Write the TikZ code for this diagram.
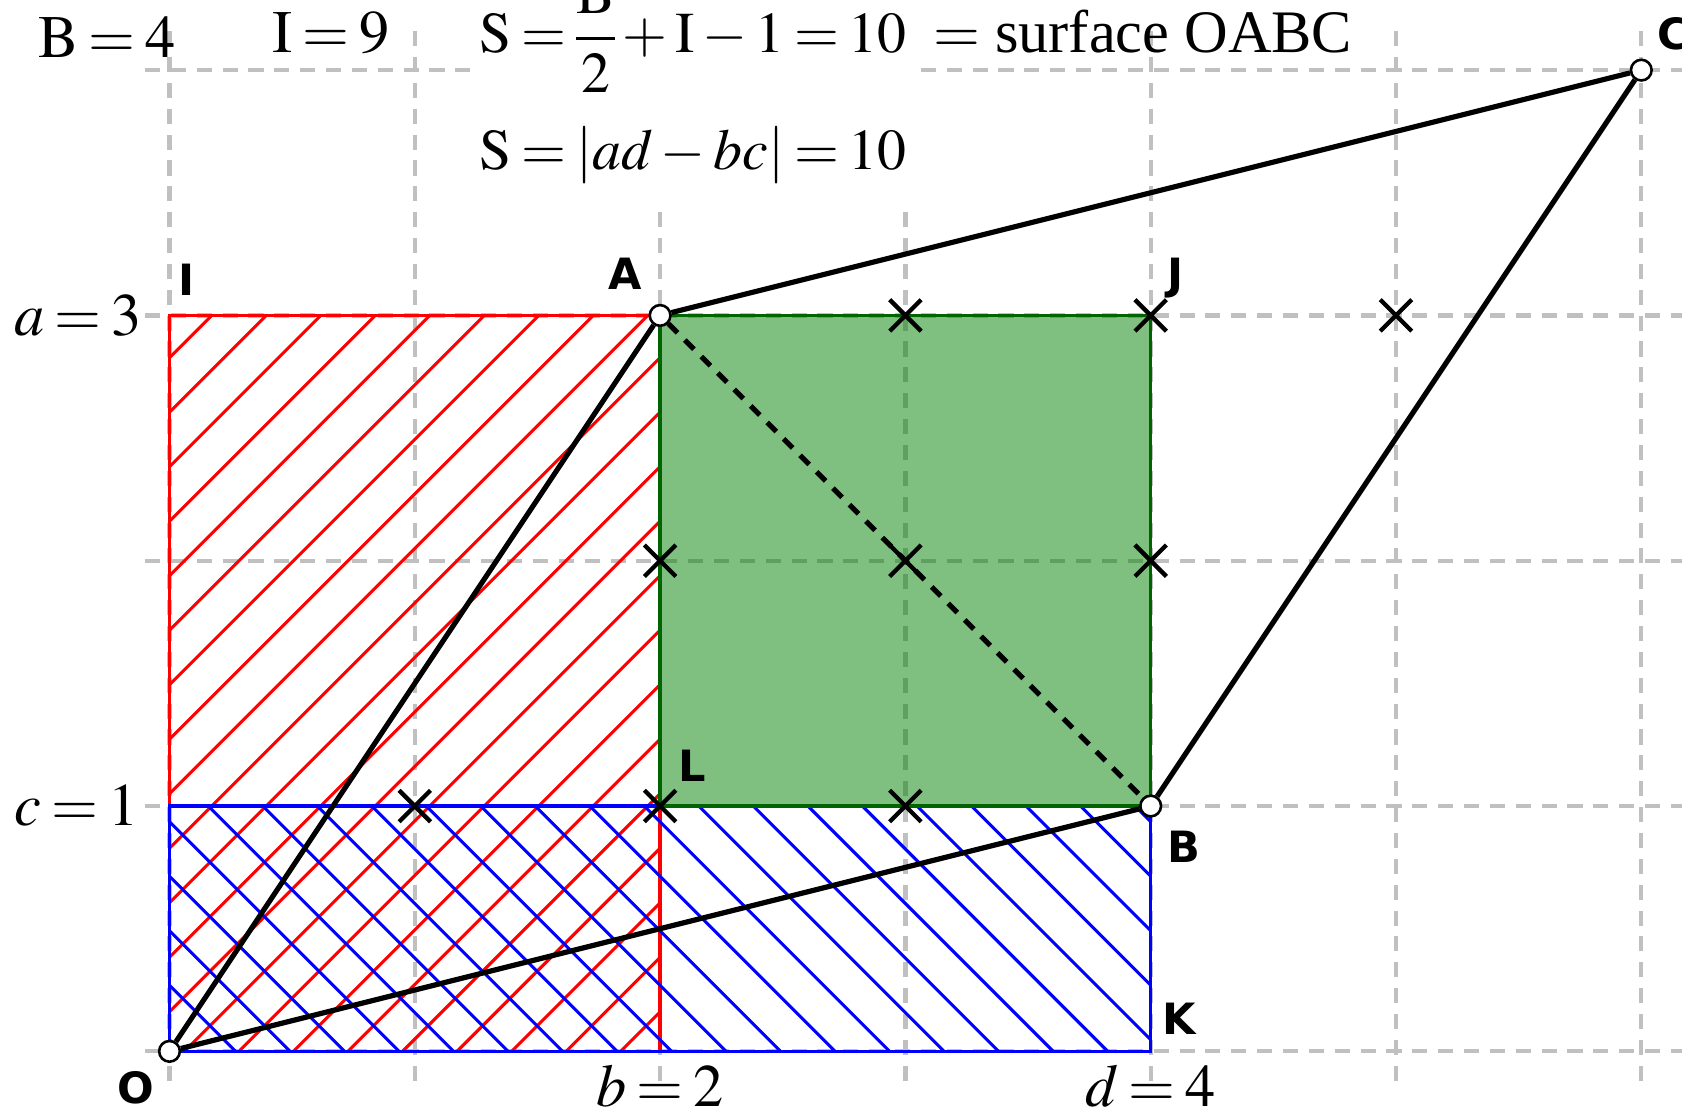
\documentclass[tikz,border=0pt]{standalone}
\usepackage{amsmath}
\usepackage{mathptmx}
\usepackage{fontspec}
\setmainfont{Liberation Serif}
\newfontfamily\ptfont{DejaVu Sans}
\usetikzlibrary{positioning, shapes.misc}

\definecolor{gridgray}{RGB}{192,192,192}
\definecolor{fillgreen}{RGB}{0,128,0}
\definecolor{edgegreen}{RGB}{0,100,0}

% tighter spacing round = + - in the formulas
\newcommand\tightmath{\thickmuskip=3mu\relax\medmuskip=2.5mu\relax\nulldelimiterspace=0pt\relax}

\begin{document}
\begin{tikzpicture}[x=2cm, y=2cm,
    gridline/.style={gridgray, line width=1pt, dash pattern=on 3.5pt off 2.5pt},
    hatch/.style={line width=0.7pt},
    side/.style={line width=1.2pt},
    pt/.style={circle, draw, fill=white, minimum size=4.8pt, inner sep=0pt, line width=0.6pt},
    lattice/.style={cross out, draw, minimum size=6.3pt, inner sep=0pt, line width=1pt},
    ptlabel/.style={font=\ptfont\bfseries\fontsize{10}{12}\selectfont, inner sep=0pt},
    txt/.style={font=\fontsize{14}{17}\selectfont, inner sep=0pt},
    formula/.style={font=\fontsize{13.4}{16}\selectfont, inner sep=0pt, anchor=base west},
]
    \useasboundingbox (-0.691,-0.264) rectangle (6.166,4.286);

    % Grid, hidden behind the formulas
    \draw[gridline, step=2cm] (-0.1,-0.12) grid (6.3,4.2);
    \fill[white] (1.23,3.44) rectangle (3.04,4.4);

    % Rectangle b x a, hatched red
    \begin{scope}
        \clip (0,0) rectangle (2,3);
        \foreach \n in {0,...,23}
            \draw[hatch, red] ({-3.05+\n*2/9},0) -- ++(3,3);
    \end{scope}
    \draw[red, line width=0.8pt] (0,0) rectangle (2,3);

    % Rectangle d x c, hatched blue
    \begin{scope}
        \clip (0,0) rectangle (4,1);
        \foreach \n in {-1,...,22}
            \draw[hatch, blue] ({0.047+\n*2/9},0) -- ++(-1,1);
    \end{scope}
    \draw[blue, line width=0.8pt] (0,0) rectangle (4,1);

    % Corners of the rectangles
    \coordinate (I) at (0,3);
    \coordinate (J) at (4,3);
    \coordinate (K) at (4,0);
    \coordinate (L) at (2,1);
    \coordinate (M) at (0,1);
    \coordinate (N) at (2,0);

    % Square in the middle
    \filldraw[fill=fillgreen, fill opacity=0.5, draw=edgegreen, line width=0.8pt] (L) rectangle (J);

    % Vertices of OABC
    \node[pt] (O) at (0,0) {};
    \node[pt] (A) at (2,3) {};
    \node[pt] (B) at (4,1) {};
    \node[pt] (C) at (6,4) {};

    \draw[side] (O) -- (A) -- (C) -- (B) -- (O);
    \draw[side, dash pattern=on 3pt off 2.4pt] (A) -- (B);

    % Interior lattice points
    \foreach \x/\y [count=\i] in {3/3, 4/3, 5/3, 2/2, 3/2, 4/2, 1/1, 2/1, 3/1}
        \node[lattice] (p\i) at (\x,\y) {};

    % Point labels
    \node[ptlabel, below left=2.6pt and 1.4pt of O] {O};
    \node[ptlabel, above left=3.8pt and 2.2pt of A] {A};
    \node[ptlabel, below right=3.7pt and 1.9pt of B] {B};
    \node[ptlabel, above right=2.6pt and 1.6pt of C] {C};
    \node[ptlabel, above right=4.4pt and 1.8pt of I] {I};
    \node[ptlabel, above right=3.8pt and 3.8pt of J] {J};
    \node[ptlabel, above right=3.7pt and 2.5pt of K] {K};
    \node[ptlabel, above right=5.4pt and 4.1pt of L] {L};

    % Side lengths
    \node[txt, left=6.2pt of I] (alen) {$\tightmath a = 3$};
    \node[txt, left=6.9pt of M] (clen) {$\tightmath c = 1$};
    \node[txt, below=3pt of N] (blen) {$\tightmath b = 2$};
    \node[txt, below=3pt of K] (dlen) {$\tightmath d = 4$};

    % Formulas
    \node[txt, anchor=base west] (bcount) at (-0.537,4.05) {$\tightmath \mathrm{B} = 4$};
    \node[txt, anchor=base west] (icount) at (0.415,4.07) {$\tightmath \mathrm{I} = 9$};
    \node[formula] (pick) at (1.262,4.07)
        {$\tightmath \mathrm{S} = \dfrac{\mathrm{B}}{2} + \mathrm{I} - 1 = 10$};
    \node[txt, anchor=base west] (surf) at (3.11,4.07) {$=$ surface OABC};
    \node[formula] (det) at (1.262,3.594)
        {$\tightmath \mathrm{S} = \left|ad - bc\right| = 10$};
\end{tikzpicture}
\end{document}
